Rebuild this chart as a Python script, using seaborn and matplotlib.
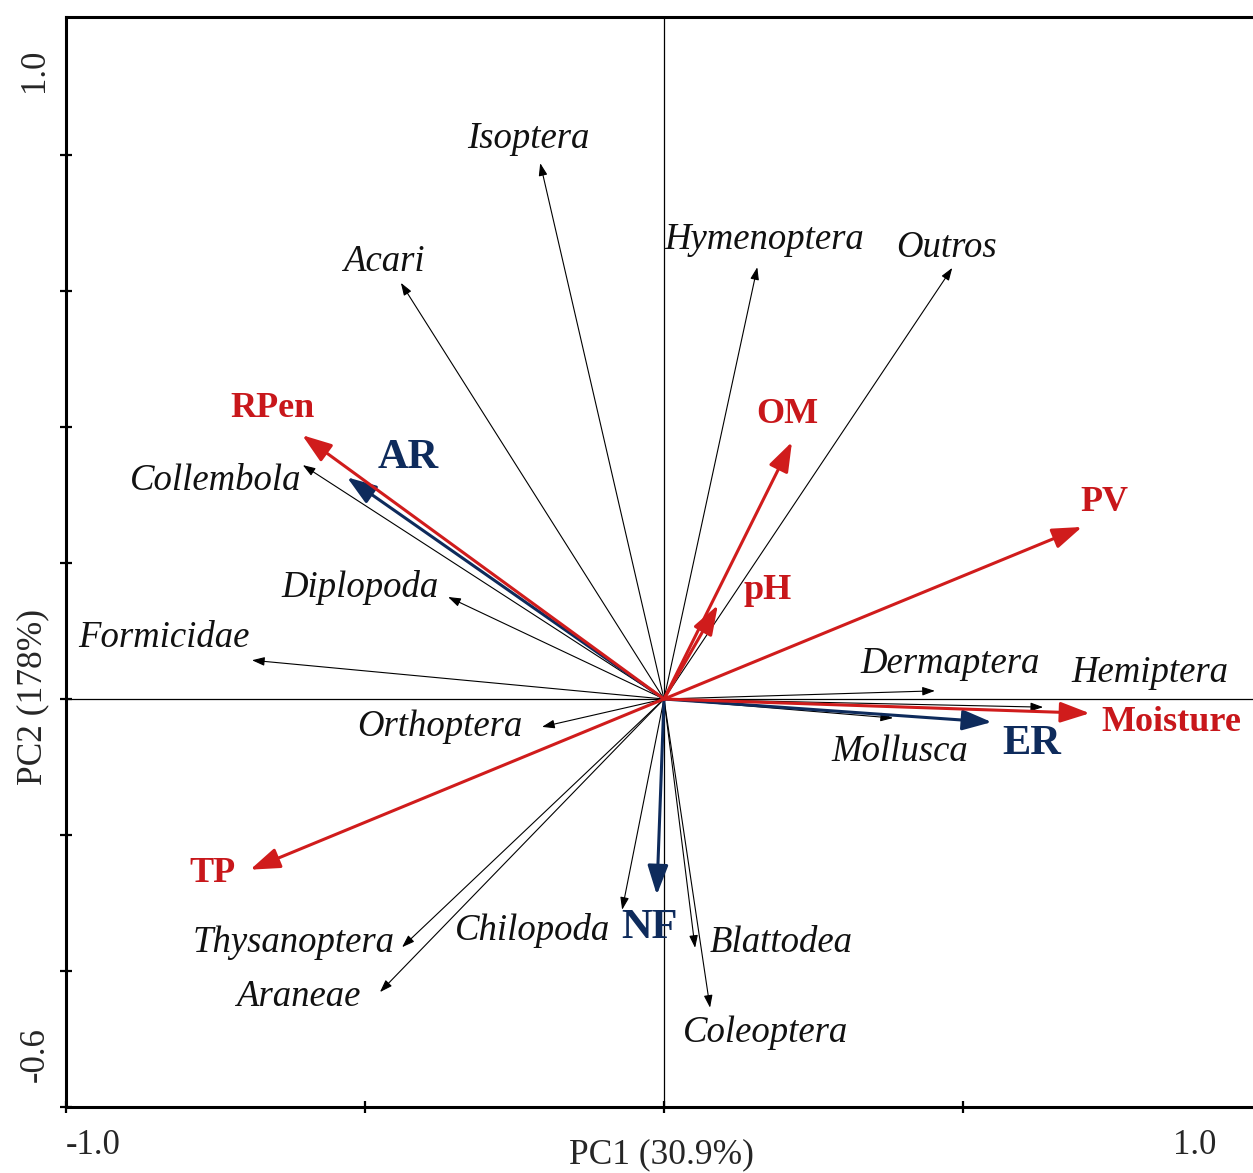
import matplotlib
matplotlib.use("Agg")
import matplotlib.pyplot as plt
import seaborn as sns

# Species loadings (PC1, PC2)
species = ["Isoptera", "Acari", "Hymenoptera", "Outros", "Collembola", "Diplopoda",
           "Formicidae", "Orthoptera", "Dermaptera", "Hemiptera", "Mollusca",
           "Thysanoptera", "Araneae", "Chilopoda", "Blattodea", "Coleoptera"]
species_pc1 = [-0.207, -0.440, 0.156, 0.482, -0.604, -0.361,
               -0.689, -0.204, 0.453, 0.634, 0.383,
               -0.438, -0.475, -0.070, 0.052, 0.077]
species_pc2 = [0.788, 0.612, 0.635, 0.634, 0.344, 0.150,
               0.057, -0.041, 0.012, -0.012, -0.028,
               -0.365, -0.431, -0.310, -0.366, -0.454]

# Soil variables (PC1, PC2)
soil_vars = ["RPen", "OM", "PV", "pH", "Moisture", "TP"]
soil_pc1 = [-0.605, 0.214, 0.699, 0.090, 0.712, -0.692]
soil_pc2 = [0.388, 0.378, 0.253, 0.138, -0.021, -0.251]

# Management variables (PC1, PC2)
mgmt_vars = ["AR", "ER", "NF"]
mgmt_pc1 = [-0.530, 0.548, -0.012]
mgmt_pc2 = [0.326, -0.034, -0.288]

# label offsets from the arrow tips, in pixels
species_offsets = {
    "Isoptera": (-12, 24), "Acari": (-17, 21), "Hymenoptera": (7, 27),
    "Outros": (-6, 20), "Collembola": (-87, -16), "Diplopoda": (-88, 10),
    "Formicidae": (-88, 22), "Orthoptera": (-102, 0), "Dermaptera": (15, 27),
    "Hemiptera": (107, 34), "Mollusca": (7, -34), "Thysanoptera": (-108, 4),
    "Araneae": (-82, -5), "Chilopoda": (-90, -21), "Blattodea": (86, 5),
    "Coleoptera": (56, -25),
}
soil_offsets = {
    "RPen": (-30, 27), "OM": (-5, 27), "PV": (22, 24), "pH": (50, 15),
    "Moisture": (82, -9), "TP": (-38, -4),
}
mgmt_offsets = {"AR": (61, 19), "ER": (40, -22), "NF": (-7, -33)}

RED = "#d01c1c"
RED_TEXT = "#c8171b"
BLUE = "#0e2b5c"

sns.set_theme(style="white")
plt.rcParams["font.family"] = ["Liberation Serif", "DejaVu Serif"]

W, H = 1253, 1173
fig = plt.figure(figsize=(W / 100, H / 100), dpi=100)
left_px, right_px, top_px, bottom_px = 66, 1253, 17, 1107
ax = fig.add_axes([left_px / W, 1 - bottom_px / H,
                   (right_px - left_px) / W, (bottom_px - top_px) / H])
ax.set_facecolor("white")

ax.set_xlim(-1.0, -1.0 + (right_px - left_px) / 598)
ax.set_ylim(-0.6, -0.6 + (bottom_px - top_px) / 680)

# frame
for side in ["left", "bottom", "top"]:
    ax.spines[side].set_visible(True)
    ax.spines[side].set_color("black")
    ax.spines[side].set_linewidth(2.2)
ax.spines["right"].set_visible(False)

ax.set_xticks([-1.0, -0.5, 0.0, 0.5])
ax.set_yticks([-0.6, -0.4, -0.2, 0.0, 0.2, 0.4, 0.6, 0.8])
ax.set_xticklabels([])
ax.set_yticklabels([])
ax.tick_params(axis="both", direction="inout", length=9, width=1.6,
               color="black", bottom=True, left=True, top=False, right=False)
ax.grid(False)

# zero lines
ax.axhline(0, color="black", lw=0.9, zorder=1)
ax.axvline(0, color="black", lw=0.9, zorder=1)


def draw_arrow(x, y, color, lw, hl, hw, z):
    ax.annotate("", xy=(x, y), xytext=(0, 0),
                arrowprops=dict(arrowstyle=f"-|>,head_length={hl},head_width={hw}",
                                color=color, lw=lw, shrinkA=0, shrinkB=0,
                                mutation_scale=1),
                zorder=z)


def draw_label(x, y, text, off, **kw):
    ax.annotate(text, xy=(x, y), xytext=off, textcoords="offset pixels",
                ha="center", va="center", **kw)


for name, x, y in zip(species, species_pc1, species_pc2):
    draw_arrow(x, y, "black", 0.8, 7.5, 2.6, 2)
    draw_label(x, y, name, species_offsets[name], fontsize=26.5,
               style="italic", color="#111111")

for name, x, y in zip(mgmt_vars, mgmt_pc1, mgmt_pc2):
    draw_arrow(x, y, BLUE, 2.2, 18, 6.3, 3)
    draw_label(x, y, name, mgmt_offsets[name], fontsize=30.5,
               fontweight="bold", color=BLUE)

for name, x, y in zip(soil_vars, soil_pc1, soil_pc2):
    draw_arrow(x, y, RED, 2.2, 18, 6.3, 4)
    draw_label(x, y, name, soil_offsets[name], fontsize=26,
               fontweight="bold", color=RED_TEXT)

# axis end values and titles
fig.text(93 / W, 1 - 1145 / H, "-1.0", ha="center", va="center", fontsize=25)
fig.text(1195 / W, 1 - 1145 / H, "1.0", ha="center", va="center", fontsize=25)
fig.text(35 / W, 1 - 70 / H, "1.0", ha="center", va="center", fontsize=25, rotation=90)
fig.text(35 / W, 1 - 1055 / H, "-0.6", ha="center", va="center", fontsize=25, rotation=90)
fig.text(661 / W, 1 - 1155 / H, "PC1 (30.9%)", ha="center", va="center", fontsize=25.5)
fig.text(33 / W, 1 - 697 / H, "PC2 (178%)", ha="center", va="center", fontsize=25.5,
         rotation=90)

fig.savefig("out.png", dpi=100)
